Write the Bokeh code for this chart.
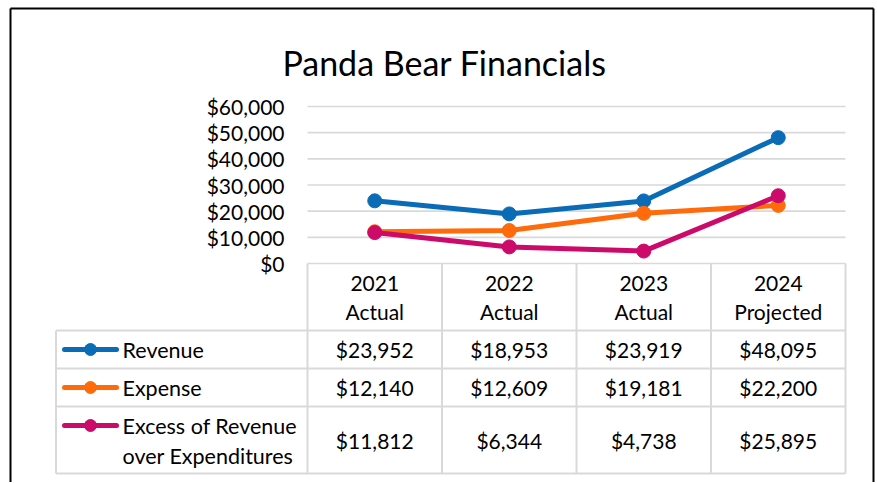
from bokeh.plotting import figure
from bokeh.models import Range1d
from bokeh.core.properties import value
from bokeh.embed import file_html
from bokeh.resources import INLINE

# ---------------- data ----------------
title_text = "Panda Bear Financials"
years = ["2021", "2022", "2023", "2024"]
statuses = ["Actual", "Actual", "Actual", "Projected"]
series_names = ["Revenue", "Expense", "Excess of Revenue\nover Expenditures"]
revenue = [23952, 18953, 23919, 48095]
expense = [12140, 12609, 19181, 22200]
excess = [11812, 6344, 4738, 25895]
y_ticks = [0, 10000, 20000, 30000, 40000, 50000, 60000]
y_tick_labels = ["$0", "$10,000", "$20,000", "$30,000", "$40,000", "$50,000", "$60,000"]

series_values = [revenue, expense, excess]
series_colors = ["#0A6BB6", "#FF6A0A", "#CC0A6A"]

# ---------------- layout constants (page pixels) ----------------
PLOT_LEFT = 307.0
CAT_W = 134.5
Y0_PX = 263.0
PX_PER_USD = 157.0 / 60000.0
W, H = 876, 482
FX0, FX1 = 0.0, float(W)
FY0, FY1 = 0.0, float(H)
BORDER_L, BORDER_R, BORDER_T = 10.0, 873.0, 8.0

FONT = value("Lato")
FS = "21px"
GRID_COLOR = "#D9D9D9"


def px2x(px):
    return -0.5 + (px - PLOT_LEFT) / CAT_W


xs = list(range(len(years)))
x_lo = -0.5
x_hi = len(years) - 0.5

p = figure(
    width=W, height=H,
    x_range=Range1d(px2x(FX0), px2x(FX1)),
    y_range=Range1d(-(FY1 - Y0_PX) / PX_PER_USD, (Y0_PX - FY0) / PX_PER_USD),
    x_axis_type=None, y_axis_type=None,
    toolbar_location=None, output_backend="svg", title=None,
    min_border_left=0, min_border_right=0, min_border_top=0, min_border_bottom=0,
    outline_line_color=None,
    background_fill_color="white", border_fill_color="white",
)
p.extra_y_ranges = {"px": Range1d(start=FY1, end=FY0)}

# outer chart border (left, top, right; bottom lies below the window)
p.multi_line(xs=[[px2x(BORDER_L)] * 2, [px2x(BORDER_L), px2x(BORDER_R)], [px2x(BORDER_R)] * 2],
             ys=[[H + 10, BORDER_T], [BORDER_T, BORDER_T], [BORDER_T, H + 10]],
             y_range_name="px", line_color="black", line_width=2)

# gridlines
p.segment(x0=[x_lo] * len(y_ticks), x1=[x_hi] * len(y_ticks), y0=y_ticks, y1=y_ticks,
          line_color=GRID_COLOR, line_width=1.6)

# y tick labels
p.text(x=[px2x(284)] * len(y_ticks), y=y_ticks, text=y_tick_labels,
       text_align="right", text_baseline="middle", text_font=FONT,
       text_font_size=FS, text_color="black")

# title
p.text(x=[px2x(444)], y=[62], y_range_name="px", text=[title_text],
       text_align="center", text_baseline="alphabetic", text_font=FONT,
       text_font_size="34px", text_color="black")

# ---------------- data table ----------------
HDR_TOP, ROW1, ROW2, ROW3, TBL_BOT = 263, 330, 368, 406, 473
LEG_LEFT = px2x(55.5)
col_edges = [i - 0.5 for i in range(len(years) + 1)]
p.segment(x0=col_edges, x1=col_edges, y0=[HDR_TOP] * len(col_edges), y1=[TBL_BOT] * len(col_edges),
          y_range_name="px", line_color=GRID_COLOR, line_width=2)
p.segment(x0=[LEG_LEFT], x1=[LEG_LEFT], y0=[ROW1], y1=[TBL_BOT],
          y_range_name="px", line_color=GRID_COLOR, line_width=2)
row_lines = [ROW1, ROW2, ROW3, TBL_BOT]
p.segment(x0=[LEG_LEFT] * 4, x1=[x_hi] * 4, y0=row_lines, y1=row_lines,
          y_range_name="px", line_color=GRID_COLOR, line_width=2)

# header text
p.text(x=xs, y=[283] * len(xs), y_range_name="px", text=years,
       text_align="center", text_baseline="middle", text_font=FONT,
       text_font_size=FS, text_color="black")
p.text(x=xs, y=[311] * len(xs), y_range_name="px", text=statuses,
       text_align="center", text_baseline="middle", text_font=FONT,
       text_font_size=FS, text_color="black")

row_centers = [349, 387, 440]
legend_y = [349, 387, 425]
for vals, color, name, rc, ly in zip(series_values, series_colors, series_names, row_centers, legend_y):
    # value cells
    p.text(x=xs, y=[rc] * len(xs), y_range_name="px",
           text=["${:,}".format(v) for v in vals],
           text_align="center", text_baseline="middle", text_font=FONT,
           text_font_size=FS, text_color="black")
    # legend key
    p.segment(x0=[px2x(64)], x1=[px2x(116)], y0=[ly], y1=[ly], y_range_name="px",
              line_color=color, line_width=5, line_cap="round")
    p.scatter(x=[px2x(90)], y=[ly], y_range_name="px", size=12,
              fill_color=color, line_color=color)
    lines = name.split("\n")
    p.text(x=[px2x(122)] * len(lines), y=[ly + 30 * k for k in range(len(lines))],
           y_range_name="px", text=lines, text_align="left", text_baseline="middle",
           text_font=FONT, text_font_size="21.5px", text_color="black")

# ---------------- series lines ----------------
for vals, color in zip(series_values, series_colors):
    p.line(xs, vals, line_color=color, line_width=5, line_join="round", line_cap="round")
    p.scatter(xs, vals, size=14, fill_color=color, line_color=color)

open("out.html", "w").write(file_html(p, INLINE))
